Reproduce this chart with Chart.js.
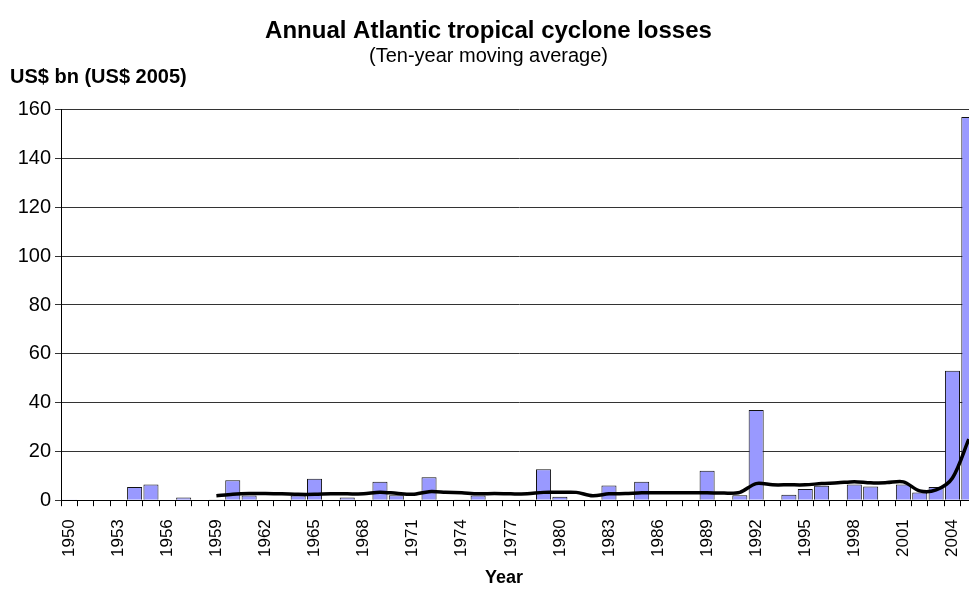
<!DOCTYPE html>
<html>
<head>
<meta charset="utf-8">
<script src="https://cdn.jsdelivr.net/npm/chart.js@4"></script>
<style>
  html, body { margin: 0; padding: 0; background: #fff; overflow: hidden; }
  #wrap { width: 985px; height: 589px; }
</style>
</head>
<body>
<div id="wrap"><canvas id="myChart" width="985" height="589"></canvas></div>
<script>
var years = [
  '1950','1951','1952','1953','1954','1955','1956','1957','1958','1959',
  '1960','1961','1962','1963','1964','1965','1966','1967','1968','1969',
  '1970','1971','1972','1973','1974','1975','1976','1977','1978','1979',
  '1980','1981','1982','1983','1984','1985','1986','1987','1988','1989',
  '1990','1991','1992','1993','1994','1995','1996','1997','1998','1999',
  '2000','2001','2002','2003','2004','2005'
];

// annual losses, US$ bn (2005 dollars)
var losses = [
  0.3, 0, 0, 0, 5.4, 6.4, 0.2, 1.1, 0, 0.1,
  8.2, 1.9, 0, 0, 1.9, 8.8, 0, 1.1, 0, 7.6,
  2.0, 0, 9.4, 0, 0.1, 1.9, 0.2, 0, 0.1, 12.7,
  1.4, 0, 0, 6.0, 0, 7.6, 0.2, 0, 0.2, 12.1,
  0, 2.0, 37, 0, 2.2, 4.6, 5.9, 0, 6.4, 5.6,
  0, 6.4, 3.1, 5.4, 53, 157
];

// ten-year moving average
var movingAvg = [
  null, null, null, null, null, null, null, null, null, 1.8,
  2.4, 2.7, 2.7, 2.6, 2.4, 2.4, 2.6, 2.6, 2.6, 3.3,
  2.8, 2.4, 3.5, 3.3, 3.0, 2.6, 2.7, 2.6, 2.6, 3.2,
  3.2, 3.2, 1.8, 2.6, 2.7, 3.0, 3.0, 3.0, 3.0, 3.0,
  2.9, 3.2, 6.8, 6.3, 6.3, 6.3, 6.8, 7.1, 7.6, 7.1,
  7.2, 7.5, 3.8, 4.2, 9.1, 25
];

var yTicks = [0, 20, 40, 60, 80, 100, 120, 140, 160];

var font = "'Liberation Sans', Arial, sans-serif";

// unit label above the y axis and the x axis title
var extraText = {
  id: 'extraText',
  afterDraw: function(chart) {
    var c = chart.ctx;
    c.save();
    c.fillStyle = '#000';
    c.textBaseline = 'middle';
    c.textAlign = 'left';
    c.font = 'bold 20px ' + font;
    c.fillText('US$ bn (US$ 2005)', 10, 77);
    c.textAlign = 'center';
    c.font = 'bold 18px ' + font;
    c.fillText('Year', 504, 578);
    c.restore();
  }
};

var ctx = document.getElementById('myChart').getContext('2d');
var myChart = new Chart(ctx, {
  type: 'bar',
  data: {
    labels: years,
    datasets: [{
      type: 'line',
      label: 'Ten-year moving average',
      data: movingAvg,
      borderColor: '#000',
      borderWidth: 3.5,
      pointRadius: 0,
      tension: 0.3,
      fill: false,
      order: 0
    }, {
      label: 'Annual losses',
      data: losses,
      backgroundColor: '#9999FF',
      borderColor: '#111',
      borderWidth: 1,
      barPercentage: 0.92,
      categoryPercentage: 1.0,
      order: 1
    }]
  },
  options: {
    responsive: false,
    animation: false,
    devicePixelRatio: 1,
    layout: { padding: { left: 0, right: 8, bottom: 19 } },
    plugins: {
      legend: { display: false },
      tooltip: { enabled: false },
      title: {
        display: true,
        text: 'Annual Atlantic tropical cyclone losses',
        color: '#000',
        font: { family: font, size: 24, weight: 'bold' },
        padding: { top: 17, bottom: 0 }
      },
      subtitle: {
        display: true,
        text: '(Ten-year moving average)',
        color: '#000',
        font: { family: font, size: 20, lineHeight: 1.1 },
        padding: { top: 0, bottom: 42 }
      }
    },
    scales: {
      x: {
        afterFit: function(s) { s.paddingLeft = 0; s.paddingRight = 0; },
        grid: { display: true, drawOnChartArea: false, color: '#000', tickLength: 6 },
        border: { display: true, color: '#000', width: 1 },
        ticks: {
          autoSkip: false,
          maxRotation: 90,
          minRotation: 90,
          padding: 13,
          color: '#000',
          font: { family: font, size: 17 },
          callback: function(v, i) { return i % 3 === 0 ? years[i] : ''; }
        }
      },
      y: {
        min: 0,
        max: 160,
        afterFit: function(s) { s.width = 61; },
        afterBuildTicks: function(axis) {
          axis.ticks = yTicks.map(function(v) { return { value: v }; });
        },
        grid: { color: '#333', lineWidth: 1, tickLength: 6 },
        border: { display: true, color: '#000', width: 1 },
        ticks: {
          padding: 4,
          color: '#000',
          font: { family: font, size: 20 }
        }
      }
    }
  },
  plugins: [extraText]
});
</script>
</body>
</html>
